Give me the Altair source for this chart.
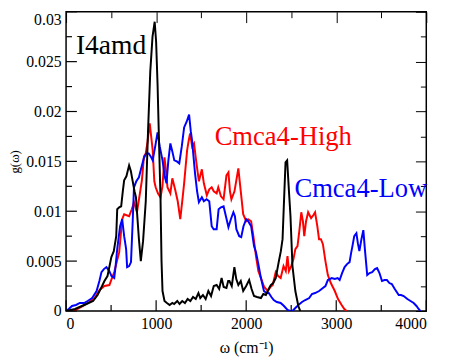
import altair as alt
import pandas as pd

# ---- data ----
black_x = [0, 50, 100, 150, 200, 250, 300, 350, 400, 426, 460, 503, 530, 557, 568, 590, 612, 630, 645, 670,
           700, 720, 732, 760, 776, 795, 809, 830, 855, 885, 910, 935, 960, 984, 1000, 1016, 1035, 1049, 1060,
           1071, 1093, 1120, 1150, 1180, 1200, 1235, 1260, 1290, 1320, 1350, 1380, 1410, 1440, 1470, 1490, 1520,
           1550, 1580, 1610, 1640, 1672, 1700, 1727, 1750, 1781, 1800, 1814, 1840, 1869, 1890, 1913, 1940, 1967,
           2000, 2033, 2060, 2087, 2120, 2164, 2190, 2219, 2250, 2273, 2300, 2328, 2361, 2385, 2404, 2420, 2437,
           2455, 2475, 2492, 2514, 2546, 2579, 2600]
black_y = [0.0, 0.0001, 0.0002, 0.0004, 0.0006, 0.0008, 0.001, 0.0016, 0.0025, 0.003, 0.0035, 0.0054, 0.006,
           0.0075, 0.0102, 0.0104, 0.0105, 0.012, 0.0131, 0.0135, 0.0146, 0.014, 0.0134, 0.012, 0.0114, 0.009,
           0.0072, 0.005, 0.007, 0.011, 0.018, 0.024, 0.0275, 0.029, 0.027, 0.0227, 0.016, 0.0112, 0.005, 0.002,
           0.001, 0.0008, 0.0006, 0.0008, 0.0007, 0.001, 0.0007, 0.001, 0.0008, 0.0012, 0.001, 0.0014, 0.0012,
           0.0018, 0.0013, 0.0016, 0.0012, 0.002, 0.0015, 0.0025, 0.0026, 0.0022, 0.0033, 0.0024, 0.0023, 0.003,
           0.003, 0.0025, 0.0044, 0.0032, 0.0026, 0.003, 0.002, 0.0025, 0.0031, 0.0022, 0.0015, 0.0014, 0.0013,
           0.0017, 0.0016, 0.0022, 0.0026, 0.0028, 0.0033, 0.0049, 0.006, 0.0072, 0.011, 0.0149, 0.0151, 0.012,
           0.0095, 0.0045, 0.002, 0.0005, 0.0]

red_x = [80, 130, 208, 260, 317, 372, 426, 481, 535, 590, 623, 645, 700, 730, 754, 787, 815, 842, 865, 885,
         905, 929, 945, 962, 980, 995, 1020, 1049, 1070, 1093, 1110, 1126, 1158, 1180, 1213, 1240, 1268, 1290,
         1311, 1344, 1360, 1377, 1400, 1421, 1445, 1475, 1508, 1530, 1563, 1590, 1617, 1640, 1672, 1690, 1720,
         1749, 1781, 1803, 1820, 1836, 1870, 1913, 1940, 1967, 2000, 2022, 2055, 2080, 2109, 2135, 2164, 2200,
         2240, 2270, 2295, 2328, 2355, 2383, 2415, 2440, 2459, 2475, 2500, 2525, 2546, 2570, 2590, 2612, 2630,
         2645, 2665, 2688, 2710, 2721, 2745, 2765, 2790, 2809, 2830, 2852, 2880, 2907, 2940, 2984, 3020, 3060,
         3090, 3115]
red_y = [0.0, 0.0002, 0.0006, 0.0009, 0.0013, 0.0021, 0.0025, 0.0026, 0.0039, 0.0059, 0.0092, 0.0097, 0.0095,
         0.0102, 0.0109, 0.0099, 0.0115, 0.0131, 0.0155, 0.0158, 0.017, 0.0188, 0.0175, 0.0161, 0.013, 0.0124,
         0.0118, 0.0114, 0.0125, 0.0154, 0.014, 0.0124, 0.0118, 0.0133, 0.0121, 0.011, 0.0092, 0.011, 0.0128,
         0.0161, 0.017, 0.0178, 0.0165, 0.0168, 0.015, 0.013, 0.0142, 0.0128, 0.0116, 0.0122, 0.0124, 0.012,
         0.0118, 0.0124, 0.0115, 0.0112, 0.0136, 0.0139, 0.012, 0.0112, 0.012, 0.0143, 0.012, 0.0097, 0.009,
         0.0092, 0.009, 0.0075, 0.0055, 0.004, 0.0033, 0.0024, 0.002, 0.0024, 0.0026, 0.0039, 0.0035, 0.0033,
         0.0045, 0.004, 0.0055, 0.004, 0.0045, 0.0052, 0.0062, 0.0065, 0.008, 0.0099, 0.009, 0.0075, 0.009,
         0.0099, 0.0095, 0.0093, 0.0096, 0.0099, 0.0085, 0.0072, 0.0072, 0.0067, 0.005, 0.0036, 0.0028, 0.002,
         0.0012, 0.0006, 0.0002, 0.0]

blue_x = [0, 30, 66, 110, 153, 200, 240, 290, 339, 370, 393, 420, 448, 480, 505, 535, 550, 568, 600, 623, 645,
          667, 678, 700, 721, 740, 754, 780, 809, 840, 863, 890, 918, 940, 962, 990, 1016, 1040, 1071, 1095,
          1115, 1135, 1158, 1180, 1202, 1230, 1257, 1285, 1311, 1340, 1366, 1385, 1399, 1415, 1432, 1455, 1475,
          1508, 1530, 1560, 1590, 1617, 1639, 1672, 1694, 1720, 1749, 1775, 1803, 1830, 1858, 1875, 1891, 1923,
          1945, 1970, 2000, 2022, 2055, 2087, 2109, 2131, 2164, 2197, 2225, 2251, 2280, 2306, 2340, 2383, 2420,
          2459, 2490, 2514, 2546, 2580, 2620, 2656, 2700, 2730, 2765, 2810, 2852, 2880, 2907, 2950, 2984, 3016,
          3038, 3065, 3093, 3120, 3148, 3165, 3180, 3200, 3224, 3240, 3257, 3280, 3301, 3320, 3344, 3370, 3399,
          3430, 3454, 3480, 3508, 3535, 3563, 3590, 3617, 3650, 3694, 3720, 3749, 3790, 3825, 3860, 3891, 3915,
          3934]
blue_y = [0.0, 0.0002, 0.0005, 0.0006, 0.0008, 0.0008, 0.001, 0.0013, 0.002, 0.003, 0.0039, 0.0042, 0.0044,
          0.004, 0.0035, 0.0033, 0.0045, 0.0062, 0.0085, 0.0092, 0.0075, 0.0062, 0.0044, 0.0045, 0.0049, 0.009,
          0.0124, 0.013, 0.0134, 0.0145, 0.0153, 0.0158, 0.0158, 0.0155, 0.0151, 0.0165, 0.0179, 0.0165, 0.0151,
          0.0135, 0.0128, 0.015, 0.0168, 0.016, 0.0151, 0.015, 0.0148, 0.0165, 0.0184, 0.019, 0.0197, 0.018,
          0.0171, 0.0155, 0.0138, 0.012, 0.0109, 0.0114, 0.011, 0.0112, 0.011, 0.0085, 0.0082, 0.0082, 0.0102,
          0.0104, 0.0105, 0.0095, 0.0084, 0.0092, 0.0099, 0.0095, 0.0082, 0.0075, 0.0074, 0.0085, 0.0092, 0.009,
          0.0085, 0.0065, 0.0059, 0.0049, 0.0033, 0.002, 0.0018, 0.0018, 0.0014, 0.0011, 0.0009, 0.0008, 0.0005,
          0.0001, 0.0, 0.0, 0.0003, 0.0006, 0.0009, 0.0011, 0.0013, 0.0017, 0.0018, 0.002, 0.0023, 0.0025,
          0.0031, 0.0033, 0.0032, 0.0033, 0.0031, 0.0038, 0.0044, 0.0047, 0.0049, 0.0058, 0.0065, 0.0075,
          0.0078, 0.0068, 0.006, 0.0072, 0.0081, 0.006, 0.0036, 0.0038, 0.0039, 0.0042, 0.0043, 0.0038, 0.003,
          0.0031, 0.0031, 0.0028, 0.0027, 0.0022, 0.0016, 0.0016, 0.0015, 0.0012, 0.001, 0.0008, 0.0005, 0.0002,
          0.0]

series_names = ["I4amd", "Cmca4-High", "Cmca4-Low"]
series_colors = ["#000000", "#ff0000", "#0000ff"]

label_text = ["I4amd", "Cmca4-High", "Cmca4-Low"]
label_x = [109, 1650, 2536]
label_y = [0.0258, 0.0166, 0.0114]
label_size = [28, 27, 27]

x_ticks = [0, 500, 1000, 1500, 2000, 2500, 3000, 3500, 4000]
x_major_ticks = [0, 1000, 2000, 3000, 4000]
x_minor_ticks = [500, 1500, 2500, 3500]
y_ticks = [0, 0.0025, 0.005, 0.0075, 0.01, 0.0125, 0.015, 0.0175, 0.02, 0.0225, 0.025, 0.0275, 0.03]
y_major_ticks = [0, 0.005, 0.01, 0.015, 0.02, 0.025, 0.03]
y_minor_ticks = [0.0025, 0.0075, 0.0125, 0.0175, 0.0225, 0.0275]

FONT = "Liberation Serif"
W, H = 366, 304
MAJOR, MINOR = 11, 6
X_MAX, Y_MAX = 4000, 0.03

x_scale = alt.Scale(domain=[0, X_MAX], nice=False, zero=False)
y_scale = alt.Scale(domain=[0, Y_MAX], nice=False, zero=False)
color_scale = alt.Scale(domain=series_names, range=series_colors)

x_major = "datum.value % 1000 === 0"
y_major = "round(datum.value * 400) % 2 === 0"


def edge_axis(orient, offset, values, major):
    # unlabelled axis moved onto the opposite frame edge so its ticks point into the plot
    return alt.Axis(orient=orient, offset=offset, values=values, grid=False, domain=False,
                    labels=False, title=None, tickColor="black", tickWidth=1,
                    tickSize=alt.ConditionalAxisNumber(condition={"test": major, "value": MAJOR}, value=MINOR))


x_label_axis = alt.Axis(orient="bottom", values=x_major_ticks, grid=False, domain=False, ticks=False,
                        format="d", labelFont=FONT, labelFontSize=16, labelColor="black", labelPadding=5,
                        title="ω (cm⁻¹)", titleFont=FONT, titleFontSize=16, titleFontWeight="normal",
                        titleColor="black", titlePadding=8)
y_label_axis = alt.Axis(orient="left", values=y_major_ticks, grid=False, domain=False, ticks=False,
                        format="~g", labelFont=FONT, labelFontSize=16, labelColor="black", labelPadding=5,
                        labelBaseline=alt.ExprRef("datum.value > 0.029 ? 'top' : 'middle'"),
                        title="g(ω)", titleFont=FONT, titleFontSize=13, titleFontWeight="normal",
                        titleColor="black", titlePadding=4)


def series_df(xs, ys, name):
    return pd.DataFrame({"w": xs, "g": ys, "series": name})


def line_layer(xs, ys, name, xaxis, yaxis):
    return alt.Chart(series_df(xs, ys, name)).mark_line(strokeWidth=2, clip=True).encode(
        x=alt.X("w:Q", scale=x_scale, axis=xaxis),
        y=alt.Y("g:Q", scale=y_scale, axis=yaxis),
        color=alt.Color("series:N", scale=color_scale, legend=None),
        order=alt.Order("w:Q"),
    )


def x_tick_rules(values, length):
    # inward ticks on the bottom edge: both ends placed through the x and y scales
    return alt.Chart(pd.DataFrame({"v": values})).mark_rule(color="black", strokeWidth=1.2).encode(
        x=alt.X("v:Q", scale=x_scale, axis=None),
        y=alt.Y(datum=0, scale=y_scale, axis=None),
        y2=alt.Y2(datum=Y_MAX * length / H))


def y_tick_rules(values, length):
    # inward ticks on the left edge: both ends placed through the x and y scales
    return alt.Chart(pd.DataFrame({"v": values})).mark_rule(color="black", strokeWidth=1.2).encode(
        y=alt.Y("v:Q", scale=y_scale, axis=None),
        x=alt.X(datum=0, scale=x_scale, axis=None),
        x2=alt.X2(datum=X_MAX * length / W))


labels_df = pd.DataFrame({"w": label_x, "g": label_y, "series": label_text, "size": label_size})
text = alt.Chart(labels_df).mark_text(font=FONT, align="left", baseline="alphabetic").encode(
    x=alt.X("w:Q", scale=x_scale, axis=None),
    y=alt.Y("g:Q", scale=y_scale, axis=None),
    text="series:N",
    color=alt.Color("series:N", scale=color_scale, legend=None),
    size=alt.Size("size:Q", scale=None, legend=None),
)

layers = [
    line_layer(red_x, red_y, "Cmca4-High", x_label_axis, y_label_axis),
    line_layer(blue_x, blue_y, "Cmca4-Low", None, None),
    # top-edge and right-edge ticks
    line_layer(black_x, black_y, "I4amd",
               edge_axis("bottom", -H, x_ticks, x_major), edge_axis("left", -W, y_ticks, y_major)),
    text,
    x_tick_rules(x_major_ticks, MAJOR),
    x_tick_rules(x_minor_ticks, MINOR),
    y_tick_rules(y_major_ticks, MAJOR),
    y_tick_rules(y_minor_ticks, MINOR),
]

chart = alt.layer(*layers).resolve_axis(x="independent", y="independent").properties(
    width=W, height=H,
    padding={"left": 59, "top": 1, "right": 18, "bottom": 48},
    autosize=alt.AutoSizeParams(type="none"),
    background="white",
).configure_view(stroke="black", strokeWidth=1.5).configure_axis(
    labelFont=FONT, titleFont=FONT, labelColor="black", titleColor="black"
)

chart.save("out.html", embed_options={"renderer": "svg", "actions": False})
